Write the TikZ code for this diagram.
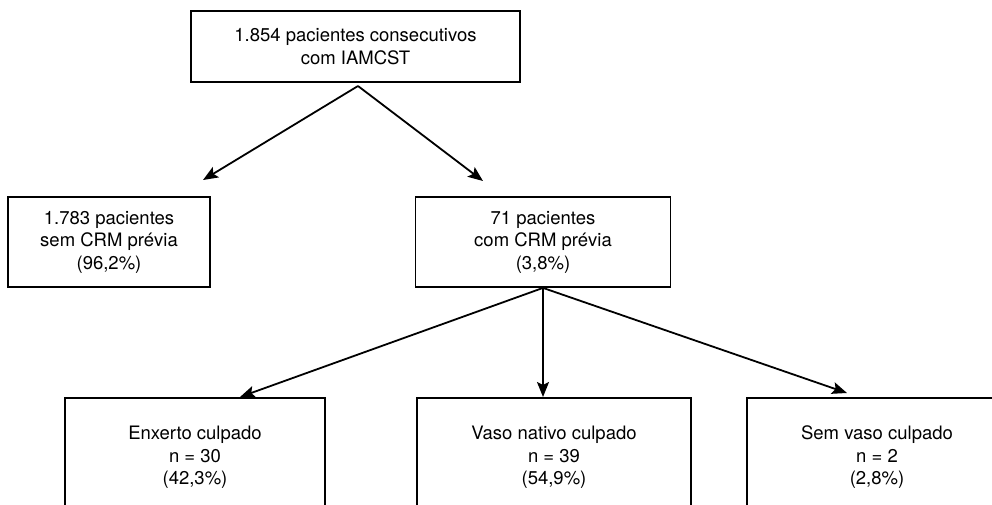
\documentclass[tikz,border=0pt]{standalone}
\usepackage{fontspec}
\setmainfont{TeX Gyre Heros}
\usetikzlibrary{arrows.meta}
\tikzset{
	caixa/.style={draw, line width=1.8pt, inner sep=0pt, align=center,
		font=\fontsize{18.5}{22.5}\selectfont},
	seta/.style={line width=1.8pt, -{Stealth[length=15pt,width=12pt,inset=3pt]}}
}
\begin{document}
\begin{tikzpicture}[x=1pt,y=-1pt]
		\useasboundingbox (0,0) rectangle (992,504);
		\node[caixa, minimum width=329pt, minimum height=71pt] at (355.5,46.5) (topo) {1.854 pacientes consecutivos\\com IAMCST};
		\node[caixa, minimum width=202pt, minimum height=90pt] at (109,242) (sem) {1.783 pacientes\\sem CRM prévia\\(96,2\%)};
		\node[caixa, minimum width=255pt, minimum height=90pt] at (543,242) (com) {71 pacientes\\com CRM prévia\\(3,8\%)};
		\node[caixa, minimum width=260pt, minimum height=119pt] at (195,457.5) (enxerto) {Enxerto culpado\\n = 30\\(42,3\%)};
		\node[caixa, minimum width=274pt, minimum height=119pt] at (554,457.5) (nativo) {Vaso nativo culpado\\n = 39\\(54,9\%)};
		\node[caixa, minimum width=260pt, minimum height=119pt] at (877,457.5) (semvaso) {Sem vaso culpado\\n = 2\\(2,8\%)};
		% pontas das setas
		\coordinate (topo-s) at (358,86);
		\coordinate (sem-n) at (203,180);
		\coordinate (com-n) at (483,181);
		\coordinate (enxerto-n) at (240,397);
		\coordinate (nativo-n) at (543,397);
		\coordinate (semvaso-n) at (847,393);
		\draw[seta] (topo-s) -- (sem-n);
		\draw[seta] (topo-s) -- (com-n);
		\draw[seta] (com.south) -- (enxerto-n);
		\draw[seta] (com.south) -- (nativo-n);
		\draw[seta] (com.south) -- (semvaso-n);
	\end{tikzpicture}
\end{document}
